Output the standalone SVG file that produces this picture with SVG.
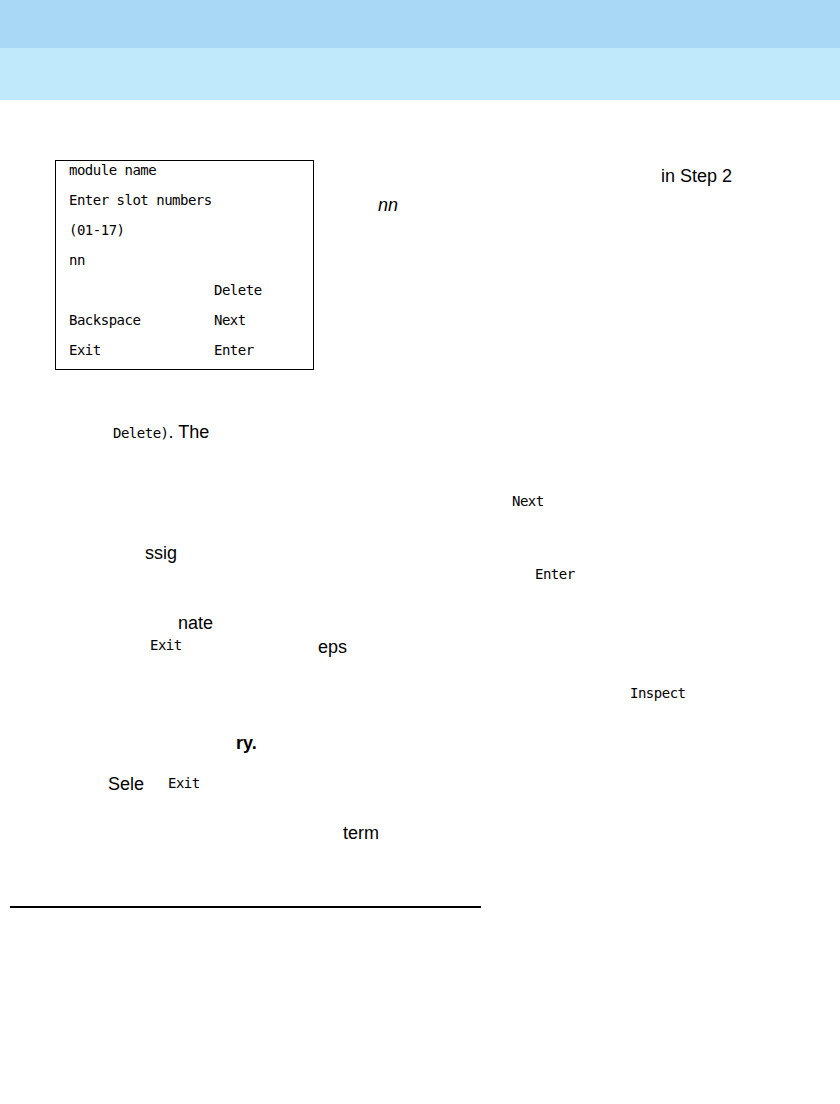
<svg xmlns="http://www.w3.org/2000/svg" width="840" height="1104" viewBox="0 0 840 1104">
<style>
.m{font-family:"DejaVu Sans Mono","Liberation Mono",monospace;font-size:14px;fill:#000;letter-spacing:-0.5px}
.s{font-family:"Liberation Sans",Arial,sans-serif;font-size:18px;fill:#000}
</style>
<rect width="840" height="1104" fill="#fff"/>
<rect x="0" y="0" width="840" height="48" fill="#a8d8f5"/>
<rect x="0" y="48" width="840" height="52" fill="#c1e9fc"/>
<g id="screen">
<rect x="55.5" y="160.5" width="258" height="209" fill="#fff" stroke="#000" stroke-width="1"/>
<text class="m" x="69" y="175">module name</text>
<text class="m" x="69" y="205">Enter slot numbers</text>
<text class="m" x="69" y="235">(01-17)</text>
<text class="m" x="69" y="265">nn</text>
<text class="m" x="214" y="295">Delete</text>
<text class="m" x="69" y="325">Backspace</text>
<text class="m" x="214" y="325">Next</text>
<text class="m" x="69" y="355">Exit</text>
<text class="m" x="214" y="355">Enter</text>
</g>
<text class="s" x="661" y="182">in Step 2</text>
<text class="s" x="378" y="211" font-style="italic">nn</text>
<text x="113" y="438"><tspan class="m">Delete)</tspan><tspan class="s">. The</tspan></text>
<text class="m" x="512" y="506">Next</text>
<text class="s" x="145" y="559">ssig</text>
<text class="m" x="535" y="579">Enter</text>
<text class="s" x="178" y="629">nate</text>
<text class="m" x="150" y="650">Exit</text>
<text class="s" x="318" y="653">eps</text>
<text class="m" x="630" y="698">Inspect</text>
<text class="s" x="236" y="749" font-weight="bold">ry.</text>
<text class="s" x="108" y="790">Sele</text>
<text class="m" x="168" y="788">Exit</text>
<text class="s" x="343" y="839">term</text>
<line x1="10" y1="907" x2="481" y2="907" stroke="#000" stroke-width="2"/>
</svg>
